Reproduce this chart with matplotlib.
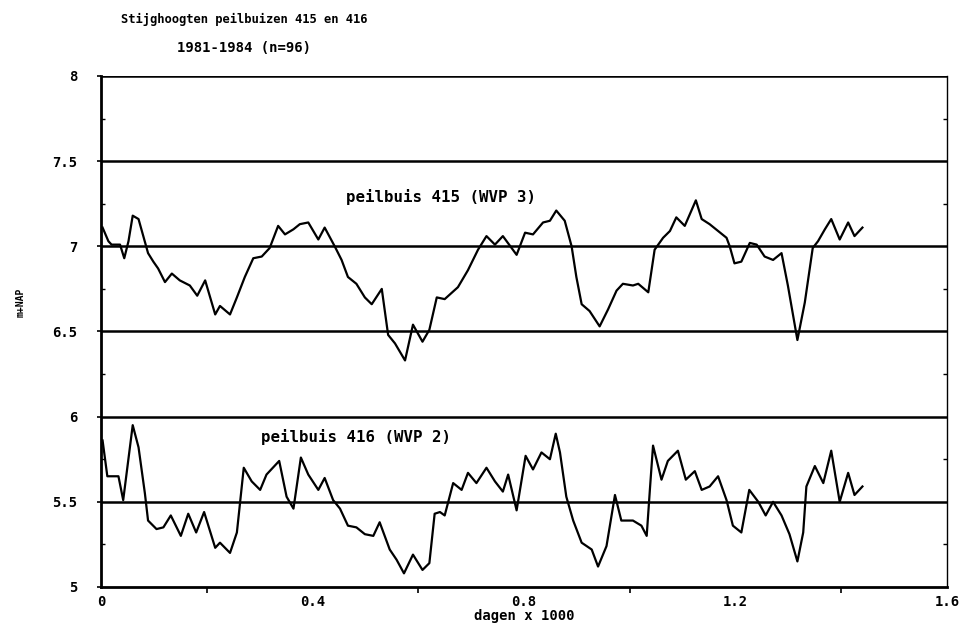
import matplotlib
matplotlib.use("Agg")
import matplotlib.pyplot as plt
from matplotlib.ticker import MultipleLocator, FixedLocator

# --- data (x in days x 1000, y in m+NAP) ---
x415 = [0.003, 0.014, 0.020, 0.036, 0.044, 0.052, 0.060, 0.071, 0.080, 0.089,
        0.099, 0.108, 0.121, 0.134, 0.149, 0.168, 0.182, 0.197, 0.216, 0.225,
        0.244, 0.257, 0.272, 0.288, 0.304, 0.319, 0.335, 0.348, 0.364, 0.376,
        0.392, 0.411, 0.423, 0.442, 0.455, 0.467, 0.483, 0.499, 0.512, 0.531,
        0.543, 0.556, 0.575, 0.590, 0.608, 0.621, 0.635, 0.650, 0.675, 0.694,
        0.713, 0.729, 0.745, 0.760, 0.786, 0.802, 0.817, 0.836, 0.849, 0.861,
        0.877, 0.890, 0.899, 0.909, 0.924, 0.943, 0.959, 0.975, 0.987, 1.006,
        1.016, 1.035, 1.047, 1.063, 1.076, 1.088, 1.104, 1.125, 1.136, 1.151,
        1.167, 1.183, 1.189, 1.198, 1.211, 1.227, 1.240, 1.255, 1.271, 1.287,
        1.299, 1.317, 1.331, 1.346, 1.356, 1.369, 1.381, 1.397, 1.413, 1.425,
        1.440]
y415 = [7.11, 7.03, 7.01, 7.01, 6.93, 7.03, 7.18, 7.16, 7.06, 6.96,
        6.91, 6.87, 6.79, 6.84, 6.80, 6.77, 6.71, 6.80, 6.60, 6.65,
        6.60, 6.70, 6.82, 6.93, 6.94, 6.99, 7.12, 7.07, 7.10, 7.13,
        7.14, 7.04, 7.11, 7.00, 6.92, 6.82, 6.78, 6.70, 6.66, 6.75,
        6.48, 6.43, 6.33, 6.54, 6.44, 6.51, 6.70, 6.69, 6.76, 6.86,
        6.98, 7.06, 7.01, 7.06, 6.95, 7.08, 7.07, 7.14, 7.15, 7.21,
        7.15, 7.00, 6.82, 6.66, 6.62, 6.53, 6.63, 6.74, 6.78, 6.77,
        6.78, 6.73, 6.98, 7.05, 7.09, 7.17, 7.12, 7.27, 7.16, 7.13,
        7.09, 7.05, 7.00, 6.90, 6.91, 7.02, 7.01, 6.94, 6.92, 6.96,
        6.77, 6.45, 6.67, 6.99, 7.03, 7.10, 7.16, 7.04, 7.14, 7.06,
        7.11]

x416 = [0.003, 0.012, 0.033, 0.042, 0.060, 0.071, 0.083, 0.089, 0.105, 0.118,
        0.132, 0.151, 0.165, 0.180, 0.195, 0.216, 0.225, 0.244, 0.257, 0.270,
        0.285, 0.301, 0.313, 0.337, 0.351, 0.364, 0.378, 0.392, 0.411, 0.423,
        0.439, 0.452, 0.467, 0.483, 0.499, 0.515, 0.527, 0.546, 0.559, 0.573,
        0.590, 0.608, 0.621, 0.631, 0.641, 0.650, 0.666, 0.682, 0.694, 0.710,
        0.729, 0.745, 0.760, 0.770, 0.786, 0.803, 0.817, 0.833, 0.849, 0.860,
        0.868, 0.880, 0.893, 0.909, 0.928, 0.940, 0.956, 0.972, 0.984, 1.006,
        1.022, 1.032, 1.038, 1.044, 1.060, 1.072, 1.091, 1.106, 1.123, 1.136,
        1.151, 1.167, 1.183, 1.195, 1.211, 1.226, 1.243, 1.257, 1.271, 1.287,
        1.302, 1.317, 1.328, 1.334, 1.350, 1.366, 1.381, 1.397, 1.413, 1.425,
        1.440]
y416 = [5.86, 5.65, 5.65, 5.51, 5.95, 5.82, 5.55, 5.39, 5.34, 5.35,
        5.42, 5.30, 5.43, 5.32, 5.44, 5.23, 5.26, 5.20, 5.32, 5.70,
        5.62, 5.57, 5.66, 5.74, 5.53, 5.46, 5.76, 5.66, 5.57, 5.64,
        5.51, 5.46, 5.36, 5.35, 5.31, 5.30, 5.38, 5.22, 5.16, 5.08,
        5.19, 5.10, 5.14, 5.43, 5.44, 5.42, 5.61, 5.57, 5.67, 5.61,
        5.70, 5.62, 5.56, 5.66, 5.45, 5.77, 5.69, 5.79, 5.75, 5.90,
        5.79, 5.53, 5.39, 5.26, 5.22, 5.12, 5.24, 5.54, 5.39, 5.39,
        5.36, 5.30, 5.57, 5.83, 5.63, 5.74, 5.80, 5.63, 5.68, 5.57,
        5.59, 5.65, 5.51, 5.36, 5.32, 5.57, 5.50, 5.42, 5.50, 5.42,
        5.31, 5.15, 5.32, 5.59, 5.71, 5.61, 5.80, 5.50, 5.67, 5.54,
        5.59]

xticks = [0.0, 0.4, 0.8, 1.2, 1.6]
xticklabels = ["0", "0.4", "0.8", "1.2", "1.6"]
yticks = [5.0, 5.5, 6.0, 6.5, 7.0, 7.5, 8.0]
yticklabels = ["5", "5.5", "6", "6.5", "7", "7.5", "8"]

FONT = "DejaVu Sans Mono"

fig = plt.figure(figsize=(9.6, 6.29), dpi=100)
ax = fig.add_axes([0.1052, 0.0668, 0.8813, 0.8124])

ax.set_xlim(0, 1.6)
ax.set_ylim(5, 8)

for yv in yticks[1:]:
    ax.axhline(yv, color="black", lw=1.8, zorder=1)

ax.plot(x415, y415, color="black", lw=1.6, zorder=3)
ax.plot(x416, y416, color="black", lw=1.6, zorder=3)

for side in ["left", "bottom"]:
    ax.spines[side].set_linewidth(2.0)
ax.spines["top"].set_visible(False)
ax.spines["right"].set_linewidth(1.0)

ax.xaxis.set_major_locator(FixedLocator(xticks))
ax.set_xticklabels(xticklabels, fontfamily=FONT, fontweight="bold", fontsize=10)
ax.xaxis.set_minor_locator(MultipleLocator(0.2))
ax.tick_params(axis="x", which="major", length=0, pad=6)
ax.tick_params(axis="x", which="minor", length=4, width=1.2, direction="out")

ax.yaxis.set_major_locator(FixedLocator(yticks))
ax.set_yticklabels(yticklabels, fontfamily=FONT, fontweight="bold", fontsize=10)
ax.yaxis.set_minor_locator(MultipleLocator(0.25))
ax.tick_params(axis="y", which="major", length=3, width=1.2, direction="out", pad=14)
ax.tick_params(axis="y", which="minor", length=3, width=1.0, direction="in", right=True)

ax.set_xlabel("dagen x 1000", fontfamily=FONT, fontweight="bold", fontsize=10, labelpad=0)
fig.text(0.022, 0.52, "m+NAP", rotation=90, ha="center", va="center",
         fontfamily=FONT, fontweight="bold", fontsize=7)

fig.text(0.254, 0.969, "Stijghoogten peilbuizen 415 en 416", ha="center", va="center",
         fontfamily=FONT, fontweight="heavy", fontsize=8.7)
fig.text(0.254, 0.924, "1981-1984 (n=96)", ha="center", va="center",
         fontfamily=FONT, fontweight="heavy", fontsize=10)

ax.text(0.643, 7.29, "peilbuis 415 (WVP 3)", ha="center", va="center",
        fontfamily=FONT, fontweight="bold", fontsize=11.3)
ax.text(0.482, 5.88, "peilbuis 416 (WVP 2)", ha="center", va="center",
        fontfamily=FONT, fontweight="bold", fontsize=11.3)

fig.savefig("out.png", dpi=100, facecolor="white")
